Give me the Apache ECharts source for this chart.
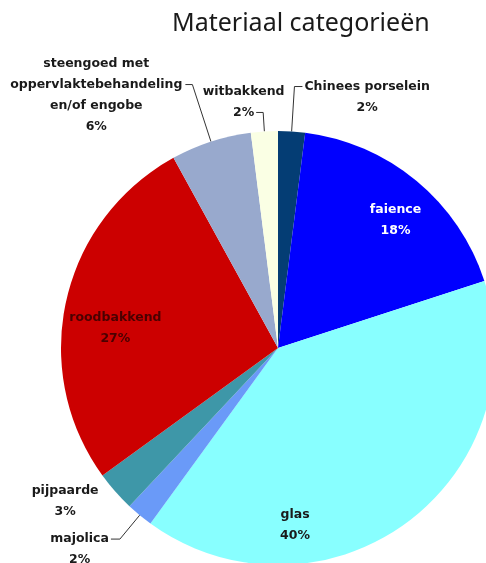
<!DOCTYPE html>
<html>
<head>
<meta charset="utf-8">
<script src="https://cdn.jsdelivr.net/npm/echarts@6/dist/echarts.min.js"></script>
<style>
html,body{margin:0;padding:0;background:#fff;}
#chart{width:486px;height:563px;}
</style>
</head>
<body>
<div id="chart"></div>
<script>
// ---- data ----
const titleText = 'Materiaal categorieën';
const categories = [
  'Chinees porselein',
  'faience',
  'glas',
  'majolica',
  'pijpaarde',
  'roodbakkend',
  'steengoed met\noppervlaktebehandeling\nen/of engobe',
  'witbakkend'
];
const values = [2, 18, 40, 2, 3, 27, 6, 2];

// ---- style ----
const colors = ['#043D74', '#0000FF', '#88FFFF', '#6A9AF8', '#3E97A8', '#CC0000', '#98A9CD', '#FAFFE4'];
const textColors = ['#1a1a1a', '#FFFFFF', '#1a1a1a', '#1a1a1a', '#1a1a1a', '#4a0000', '#1a1a1a', '#1a1a1a'];
const CX = 278, CY = 348, R = 217;
const LABEL_FONT_FAMILY = 'DejaVu Sans';
const LABEL_FONT_SIZE = 12.5;
// label placement: 'in' -> angle/radius-ratio ; 'out' -> leader line lengths & which text line the leader meets
const labelCfg = [
  { pos: 'out', len: 45, len2: 8, line: 0, gap: 2 },
  { pos: 'in', ang: 42.6, k: 0.80 },
  { pos: 'in', ang: 174.5, k: 0.82 },
  { pos: 'out', len: 31, len2: 9, line: 0, gap: 2 },
  { pos: 'in', ang: 234.3, k: 1.208 },
  { pos: 'in', ang: 277, k: 0.755 },
  { pos: 'out', len: 60, len2: 7, line: 1, gap: 3 },
  { pos: 'out', len: 19, len2: 7, line: 1, gap: 2 }
];

const measureCtx = document.createElement('canvas').getContext('2d');
function textWidth(s) {
  measureCtx.font = 'bold ' + LABEL_FONT_SIZE + 'px "' + LABEL_FONT_FAMILY + '"';
  return measureCtx.measureText(s).width;
}
function labelText(i) { return categories[i] + '\n' + values[i] + '%'; }

const seriesData = categories.map((name, i) => {
  const c = labelCfg[i];
  return {
    name: name,
    value: values[i],
    itemStyle: { color: colors[i] },
    label: { position: c.pos === 'in' ? 'inside' : 'outside', color: textColors[i] },
    labelLine: c.pos === 'in' ? { show: false } : { show: true, length: c.len, length2: c.len2 }
  };
});

const chart = echarts.init(document.getElementById('chart'));
chart.setOption({
  animation: false,
  backgroundColor: '#ffffff',
  title: {
    text: titleText,
    left: 167,
    top: 6,
    textStyle: { fontFamily: 'Noto Sans', fontSize: 25, fontWeight: 'normal', color: '#1a1a1a' }
  },
  series: [{
    type: 'pie',
    center: [CX, CY],
    radius: R,
    startAngle: 90,
    clockwise: true,
    avoidLabelOverlap: false,
    data: seriesData,
    itemStyle: { borderWidth: 0 },
    label: {
      fontFamily: LABEL_FONT_FAMILY,
      fontSize: LABEL_FONT_SIZE,
      fontWeight: 'bold',
      lineHeight: 21,
      formatter: p => labelText(p.dataIndex)
    },
    labelLine: { lineStyle: { color: '#333', width: 1 } },
    emphasis: { disabled: true },
    labelLayout: function (p) {
      const c = labelCfg[p.dataIndex];
      const h = p.labelRect.height;
      const lines = labelText(p.dataIndex).split('\n');
      const n = lines.length;
      const lh = h / n;
      if (c.pos === 'in') {
        const a = c.ang * Math.PI / 180;
        return {
          x: CX + c.k * R * Math.sin(a),
          y: CY - c.k * R * Math.cos(a),
          align: 'center', verticalAlign: 'middle'
        };
      }
      const pts = p.labelLinePoints;
      const end = pts[2];
      const side = end[0] < pts[1][0] ? -1 : 1;
      const lw = textWidth(lines[c.line]);
      return {
        x: end[0] + side * (c.gap + lw / 2),
        y: end[1] + ((n - 1) / 2 - c.line) * lh,
        align: 'center', verticalAlign: 'middle',
        labelLinePoints: pts
      };
    }
  }]
});
</script>
</body>
</html>
